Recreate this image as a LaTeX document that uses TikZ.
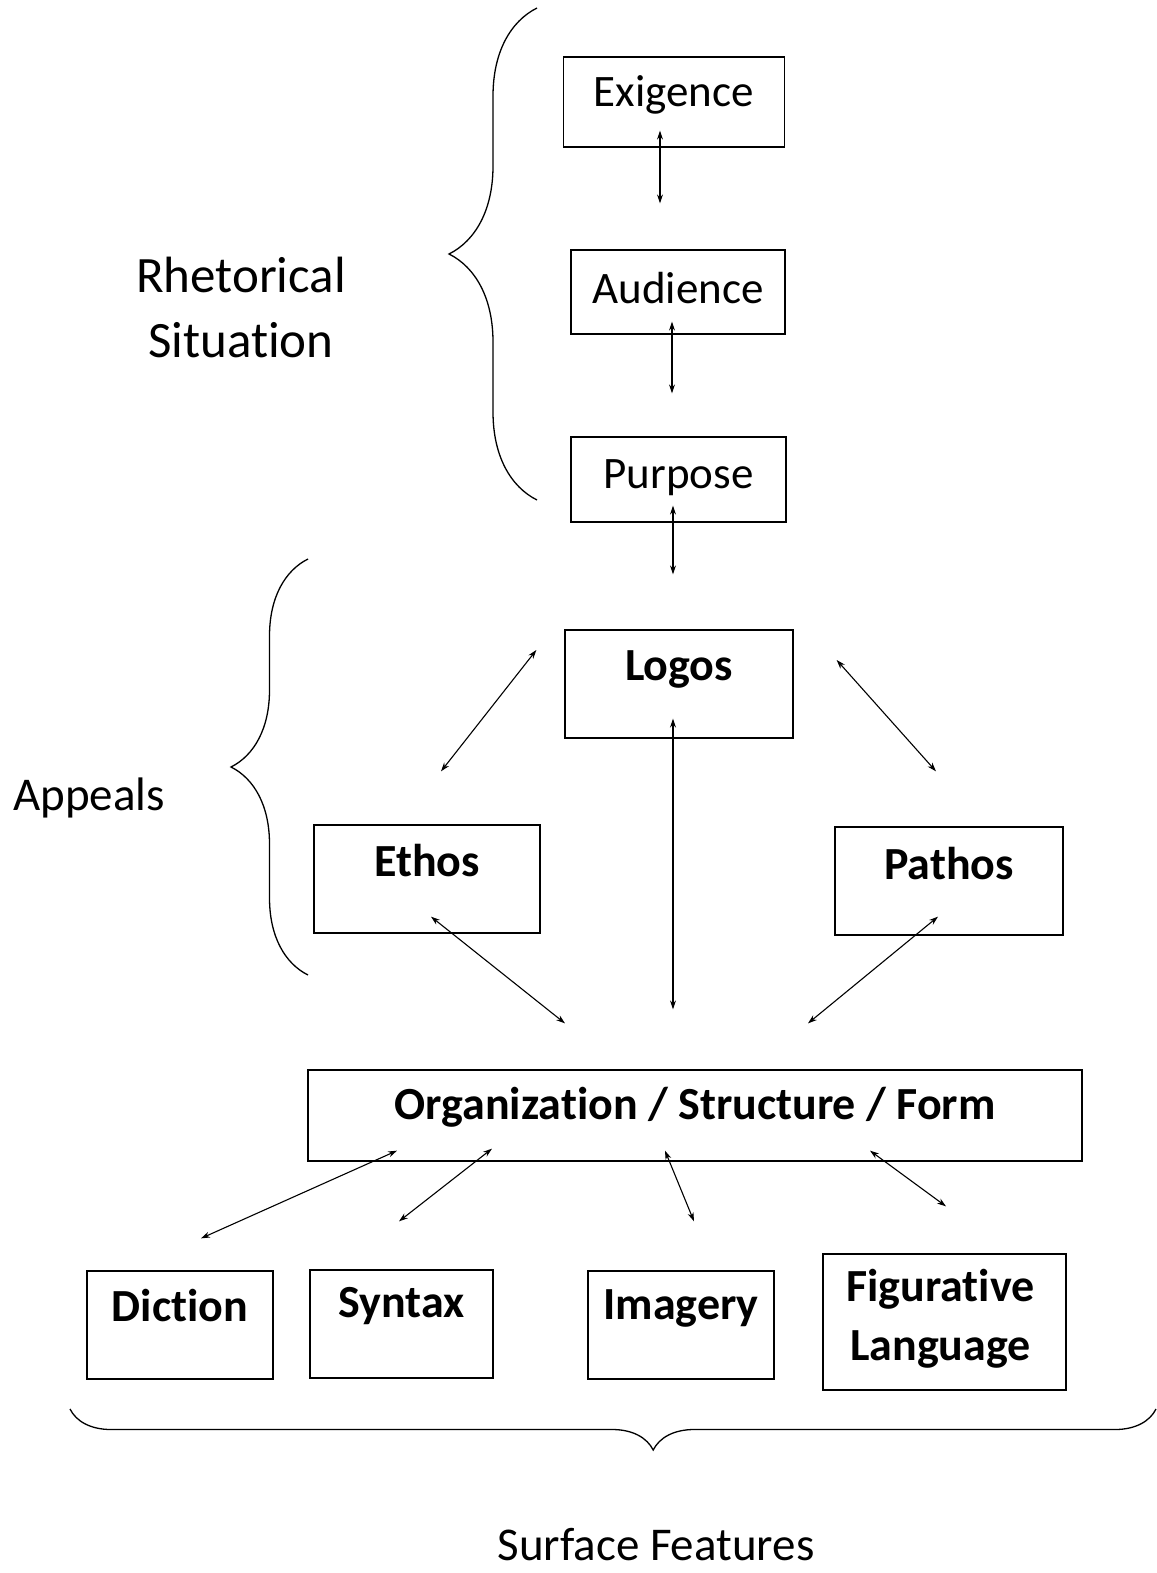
\documentclass[tikz,border=0pt]{standalone}
\usepackage{fontspec}
\setmainfont[Ligatures=NoCommon]{Carlito}
\usetikzlibrary{arrows.meta, positioning, decorations.pathreplacing}

\begin{document}
\begin{tikzpicture}[
    x=1pt, y=-1pt,
    box/.style={rectangle, draw, line width=1.3pt, inner sep=0pt},
    plain/.style={font=\fontsize{45}{54}\selectfont},
    heavy/.style={font=\fontsize{46}{59}\selectfont\bfseries, align=center},
    side/.style={font=\fontsize{51}{65}\selectfont, align=center},
    arrow/.style={<->, >={Stealth[length=9pt, width=6pt]}, line width=1.1pt},
    curly/.style={decorate, decoration={brace, amplitude=#1}, line width=1.3pt}
]
\useasboundingbox (0,0) rectangle (1156,1573);

% Rhetorical situation
\node[box, minimum width=221pt, minimum height=90pt] (exig) at (674,102) {};
\node[plain] (exig-t) at ([yshift=7pt]exig.center) {Exigence};
\node[box, minimum width=214pt, minimum height=84pt] (aud) at (678,292) {};
\node[plain] (aud-t) at ([yshift=4pt]aud.center) {Audience};
\node[box, minimum width=215pt, minimum height=85pt] (purp) at (678.5,479.5) {};
\node[plain] (purp-t) at ([yshift=2pt]purp.center) {Purpose};

\draw[arrow] ([xshift=-14pt,yshift=17pt]exig.south) -- ([xshift=-18pt,yshift=46pt]aud.north);
\draw[arrow] ([xshift=-6pt,yshift=13pt]aud.south) -- ([xshift=-6.5pt,yshift=43pt]purp.north);

\draw[curly=88pt] (537,500) -- (537,8);
\node[side] (rhet) at (241,307) {Rhetorical\\Situation};

% Appeals
\node[box, minimum width=228pt, minimum height=108pt] (logos) at (679,684) {};
\node[heavy] (logos-t) at ([yshift=15pt]logos.center) {Logos};
\node[box, minimum width=226pt, minimum height=108pt] (ethos) at (427,879) {};
\node[heavy] (ethos-t) at ([yshift=18pt]ethos.center) {Ethos};
\node[box, minimum width=228pt, minimum height=108pt] (pathos) at (949,881) {};
\node[heavy] (pathos-t) at ([yshift=17pt]pathos.center) {Pathos};

\draw[arrow] ([xshift=-5.5pt,yshift=17pt]purp.south) -- ([xshift=-6pt,yshift=55pt]logos.north);
\draw[arrow] ([xshift=-28pt,yshift=34pt]logos.west) -- ([xshift=14pt,yshift=53pt]ethos.north);
\draw[arrow] ([xshift=43pt,yshift=24pt]logos.east) -- ([xshift=-13pt,yshift=55pt]pathos.north);

\draw[curly=77pt] (308,975) -- (308,559);
\node[side, font=\fontsize{47}{56}\selectfont] (appeals) at (89,798) {Appeals};

% Organization
\node[box, minimum width=774pt, minimum height=91pt] (org) at (695,1115.5) {};
\node[heavy] (org-t) at ([yshift=8pt]org.center) {Organization / Structure / Form};

\draw[arrow] ([xshift=-6pt,yshift=20pt]logos.south) -- ([xshift=-22pt,yshift=60pt]org.north);
\draw[arrow] ([xshift=4pt,yshift=17pt]ethos.south) -- ([xshift=-130pt,yshift=46pt]org.north);
\draw[arrow] ([xshift=-11pt,yshift=19pt]pathos.south) -- ([xshift=113pt,yshift=46pt]org.north);

% Surface features
\node[box, minimum width=186pt, minimum height=108pt] (dict) at (180,1325) {};
\node[heavy] (dict-t) at ([yshift=19pt]dict.center) {Diction};
\node[box, minimum width=183pt, minimum height=108pt] (synt) at (401.5,1324) {};
\node[heavy] (synt-t) at ([yshift=18pt]synt.center) {Syntax};
\node[box, minimum width=186pt, minimum height=108pt] (imag) at (681,1325) {};
\node[heavy] (imag-t) at ([yshift=17pt]imag.center) {Imagery};
\node[box, minimum width=243pt, minimum height=136pt] (figur) at (944.5,1322) {};
\node[heavy] (figur-t) at ([xshift=-4pt,yshift=3pt]figur.center) {Figurative\\Language};

\draw[arrow] ([xshift=-298pt,yshift=11pt]org.south) -- ([xshift=21pt,yshift=32pt]dict.north);
\draw[arrow] ([xshift=-203pt,yshift=13pt]org.south) -- ([xshift=-2.5pt,yshift=48pt]synt.north);
\draw[arrow] ([xshift=-30pt,yshift=11pt]org.south) -- ([xshift=13pt,yshift=49pt]imag.north);
\draw[arrow] ([xshift=175pt,yshift=11pt]org.south) -- ([xshift=1.5pt,yshift=47pt]figur.north);

\draw[curly=41pt, decoration={aspect=0.463}] (1156,1409) -- (70,1409);
\node[side, font=\fontsize{47}{56}\selectfont] (surf) at (656,1545) {Surface Features};

\end{tikzpicture}
\end{document}
